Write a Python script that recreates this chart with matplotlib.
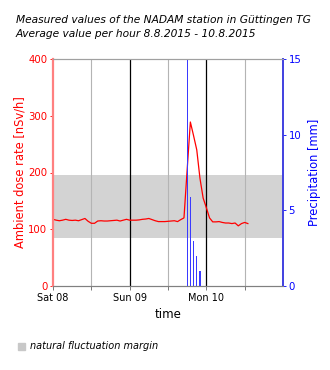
import matplotlib
matplotlib.use("Agg")
import matplotlib.pyplot as plt
from matplotlib.patches import Rectangle

# hours since Sat 08.08.2015 00:00
dose_hours = list(range(0, 62))
dose_values = [117.5, 116, 115, 116, 117.5, 116, 115.5, 116, 115, 117,
               119, 114, 110.5, 110.5, 114.5, 115, 114.5, 114.5, 115, 115.5,
               116, 114.5, 116, 117.5, 116, 116, 116, 116.5, 117.5, 118,
               119, 117, 115, 113.5, 113.5, 113.5, 114, 114.5, 115, 113.5,
               117, 120, 205, 289, 265, 240, 190, 155, 138, 120,
               113, 113, 113.5, 112, 111, 111, 110, 111, 106, 110,
               112, 110]
precip_hours = [42, 43, 44, 45, 46]
precip_values = [16, 5.9, 3.0, 2.0, 1.0]
band_low, band_high = 85, 196
day_ticks = [0, 24, 48]
day_labels = ["Sat 08", "Sun 09", "Mon 10"]
half_day_ticks = [12, 36, 60]

fig = plt.figure(figsize=(3.3, 3.7), dpi=100)
ax = fig.add_axes([53/330, 1-286/370, 230/330, 227/370])
ax2 = ax.twinx()

ax.axhspan(band_low, band_high, color="#d3d3d3", zorder=0, lw=0)
for h in half_day_ticks:
    ax.axvline(h, color="#b4b4b4", lw=0.8, zorder=1)
for h in day_ticks[1:]:
    ax.axvline(h, color="black", lw=0.9, zorder=1)

ax.plot(dose_hours, dose_values, color="red", lw=0.9, zorder=3)
ax.set_xlim(0, 72)
ax.set_ylim(0, 400)
ax.set_yticks([0, 100, 200, 300, 400])
ax.set_xticks(day_ticks)
ax.set_xticklabels(day_labels)
ax.set_xticks(half_day_ticks, minor=True)
ax.tick_params(axis="x", labelsize=7, length=3, width=0.6, color="#606060", pad=2)
ax.tick_params(axis="x", which="minor", length=3, width=0.6, color="#606060")
ax.tick_params(axis="y", colors="red", labelsize=7.3, length=2, width=0.6, pad=2)
ax.set_ylabel("Ambient dose rate [nSv/h]", color="red", fontsize=8.3, labelpad=1)
ax.set_xlabel("time", fontsize=8.5, labelpad=4)

ax2.bar(precip_hours, precip_values, width=0.4, color="#3a3aff", zorder=2)
ax2.set_ylim(0, 15)
ax2.set_yticks([0, 5, 10, 15])
ax2.tick_params(axis="y", colors="blue", labelsize=7.3, length=2, width=0.6, pad=2)
ax2.set_ylabel("Precipitation [mm]", color="blue", fontsize=8.3, labelpad=5)

for a in (ax, ax2):
    a.spines["top"].set_color("#a0a0a0")
    a.spines["bottom"].set_color("#808080")
    a.spines["top"].set_linewidth(0.8)
    a.spines["bottom"].set_linewidth(0.8)
ax2.spines["left"].set_color("#ff8080")
ax2.spines["left"].set_linewidth(1.6)
ax2.spines["right"].set_color("#4040e0")
ax2.spines["right"].set_linewidth(1.4)
ax.spines["left"].set_visible(False)
ax.spines["right"].set_visible(False)

fig.text(16/330, 1-20/370, "Measured values of the NADAM station in Güttingen TG",
         fontsize=7.7, style="italic", va="center", ha="left")
fig.text(16/330, 1-34/370, "Average value per hour 8.8.2015 - 10.8.2015",
         fontsize=7.7, style="italic", va="center", ha="left")

fig.patches.append(Rectangle((18/330, 1-350/370), 7/330, 7/370,
                             transform=fig.transFigure, color="#c8c8c8"))
fig.text(30/330, 1-346/370, "natural fluctuation margin", fontsize=7,
         style="italic", va="center", ha="left")

fig.savefig("out.png", dpi=100)
